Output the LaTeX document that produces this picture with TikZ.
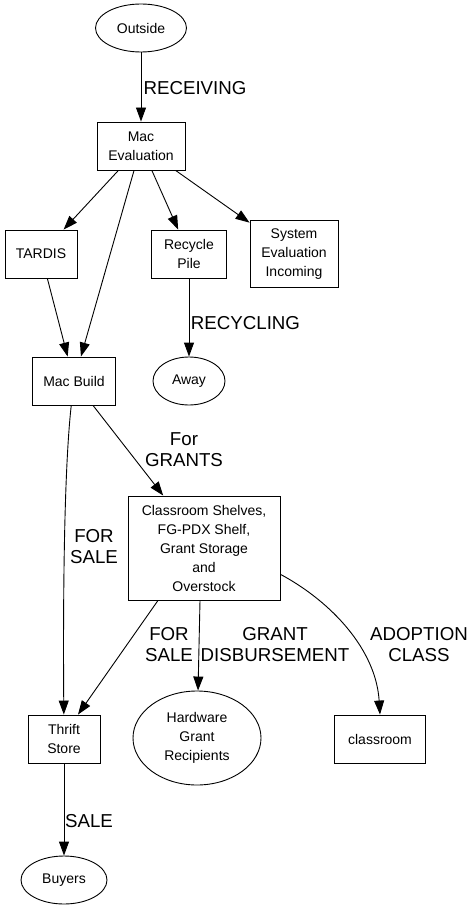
\documentclass[tikz,border=0pt]{standalone}
\usepackage{fontspec}
\setmainfont{Liberation Sans}
\usepackage{tikz}
\usetikzlibrary{positioning,arrows.meta,shapes.geometric}
\tikzset{
  flowarrow/.style={-{Triangle[length=14pt,width=10pt]}, line width=0.9pt},
  place/.style={draw, ellipse, line width=0.9pt, inner sep=0pt, align=center, font=\fontsize{14}{19}\selectfont},
  stagebox/.style={draw, rectangle, line width=0.9pt, inner sep=0pt, align=center, font=\fontsize{14}{19}\selectfont},
  flowlabel/.style={inner sep=0pt, align=center, font=\fontsize{18.7}{21}\selectfont}
}
\begin{document}
\begin{tikzpicture}[x=1pt, y=1pt, >=Triangle]
  \useasboundingbox (0,0) rectangle (475,-909);
  % nodes
  \node[place, minimum width=91, minimum height=48] (outside) at (141,-28) {Outside};
  \node[stagebox, minimum width=88, minimum height=48] (maceval) at (141,-146) {Mac\\Evaluation};
  \node[stagebox, minimum width=72, minimum height=48] (tardis) at (41,-254) {TARDIS};
  \node[stagebox, minimum width=75, minimum height=48] (recycle) at (189,-254) {Recycle\\Pile};
  \node[stagebox, minimum width=88, minimum height=67] (syseval) at (294,-254) {System\\Evaluation\\Incoming};
  \node[stagebox, minimum width=83, minimum height=48] (macbuild) at (74,-381) {Mac Build};
  \node[place, minimum width=72, minimum height=48] (away) at (189,-381) {Away};
  \node[stagebox, minimum width=152, minimum height=104] (shelves) at (204,-548)
    {Classroom Shelves,\\FG-PDX Shelf,\\Grant Storage\\and\\Overstock};
  \node[stagebox, minimum width=72, minimum height=48] (thrift) at (64,-739) {Thrift\\Store};
  \node[place, minimum width=128, minimum height=94] (hardware) at (197,-738) {Hardware\\Grant\\Recipients};
  \node[stagebox, minimum width=91, minimum height=48] (classroom) at (380,-739) {classroom};
  \node[place, minimum width=86, minimum height=48] (buyers) at (64,-880) {Buyers};

  % labels
  \node[flowlabel] (lreceiving) at (195,-88) {RECEIVING};
  \node[flowlabel] (lrecycling) at (245.5,-323) {RECYCLING};
  \node[flowlabel] (lgrants) at (184,-450) {For\\GRANTS};
  \node[flowlabel] (lsale1) at (94,-547) {FOR\\SALE};
  \node[flowlabel] (lsale2) at (169,-645) {FOR\\SALE};
  \node[flowlabel] (ldisburse) at (275,-645) {GRANT\\DISBURSEMENT};
  \node[flowlabel] (ladopt) at (419,-645) {ADOPTION\\CLASS};
  \node[flowlabel] (lsale) at (89,-821) {SALE};

  % connectors
  \draw[flowarrow] (outside) -- (maceval);
  \draw[flowarrow] (maceval) -- (tardis);
  \draw[flowarrow] (maceval) -- (macbuild);
  \draw[flowarrow] (maceval) -- (recycle);
  \draw[flowarrow] (maceval) -- (syseval);
  \draw[flowarrow] (tardis) -- (macbuild);
  \draw[flowarrow] (recycle) -- (away);
  \draw[flowarrow] (macbuild) -- (shelves);
  \draw[flowarrow] (macbuild) .. controls (64,-470) and (63,-600) .. (thrift);
  \draw[flowarrow] ([xshift=-46pt]shelves.south) -- ([xshift=14pt]thrift.north);
  \draw[flowarrow] ([xshift=-4pt]shelves.south) -- (hardware);
  \draw[flowarrow] (shelves.-19) .. controls (332,-602) and (376,-650) .. (classroom.north);
  \draw[flowarrow] (thrift) -- (buyers);
\end{tikzpicture}
\end{document}
